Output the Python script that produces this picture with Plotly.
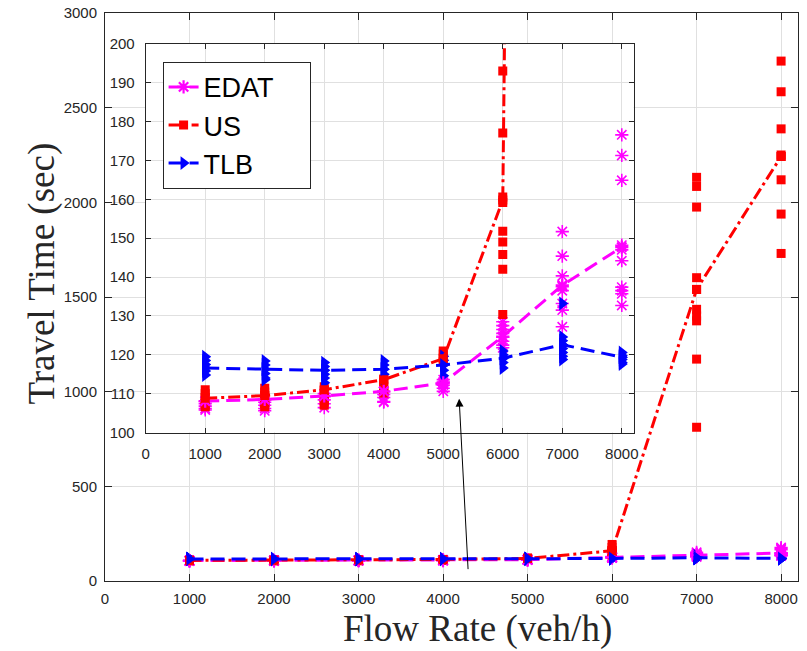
import plotly.graph_objects as go

# ---------------- data ----------------
flow = [1000, 2000, 3000, 4000, 5000, 6000, 7000, 8000]
x_ticks = [0, 1000, 2000, 3000, 4000, 5000, 6000, 7000, 8000]
y_ticks_main = [0, 500, 1000, 1500, 2000, 2500, 3000]
y_ticks_inset = [100, 110, 120, 130, 140, 150, 160, 170, 180, 190, 200]

edat_mean = [108.1, 108.5, 109.4, 110.6, 112.8, 124.7, 137.9, 147.7]
us_mean = [108.8, 109.5, 111.0, 113.6, 119.0, 159.8, 1540, 2242]
tlb_mean = [116.6, 116.3, 116.0, 116.3, 117.4, 119.1, 122.6, 119.4]

edat_runs = [
    [108.0, 107.4, 106.8, 106.2, 105.8],
    [108.4, 107.8, 107.0, 106.2, 105.6],
    [110.0, 109.2, 108.4, 107.4, 106.4],
    [110.5, 109.8, 109.0, 108.0, 107.8],
    [113.6, 113.0, 112.2, 111.4, 110.6],
    [128.5, 127.5, 126.5, 125.5, 124.5, 123.5, 122.5, 121.8],
    [151.7, 145.4, 140.3, 137.5, 136.5, 133.2, 131.5, 127.2],
    [176.6, 171.3, 164.9, 148.2, 147.0, 144.2, 137.4, 136.5, 135.7, 132.7],
]
us_runs = [
    [111.0, 110.0, 109.0, 108.0, 107.0, 106.6],
    [111.4, 110.4, 109.4, 108.4, 107.4, 106.6],
    [111.8, 110.8, 109.8, 108.8, 107.8, 107.0],
    [113.8, 112.8, 111.8, 110.8, 110.2],
    [121.0, 120.2, 119.2, 118.2],
    [193.0, 177.1, 160.6, 159.2, 151.8, 149.0, 145.8, 142.0, 130.4],
    [2132, 2084, 1975, 1602, 1540, 1435, 1400, 1374, 1172, 812],
    [2746, 2584, 2388, 2250, 2242, 2119, 1938, 1730],
]
tlb_runs = [
    [119.5, 118.5, 117.5, 116.6, 115.8, 114.8],
    [118.4, 117.4, 116.3, 115.2, 114.0, 113.6],
    [118.0, 117.0, 116.0, 115.0, 114.0, 112.8],
    [118.4, 117.4, 116.3, 115.0, 114.0],
    [119.6, 118.6, 117.4, 116.0, 114.6],
    [121.0, 120.0, 119.1, 118.0, 116.6],
    [133.2, 124.6, 123.6, 122.6, 121.6, 120.6, 119.6, 118.8],
    [120.6, 119.8, 119.4, 118.8, 118.0, 117.6],
]

NBSP = "\u00a0"
series = [
    dict(name="EDAT" + NBSP * 4, mean=edat_mean, runs=edat_runs, color="#FF00FF",
         dash="14px,7px", symbol="asterisk-open", size=11, mlw=1.6),
    dict(name="US", mean=us_mean, runs=us_runs, color="#FF0000",
         dash="12px,4px,3px,4px", symbol="square", size=9, mlw=0),
    dict(name="TLB", mean=tlb_mean, runs=tlb_runs, color="#0000FF",
         dash="14px,7px", symbol="triangle-right", size=12, mlw=0),
]


def flatten(runs):
    xs, ys = [], []
    for f, vals in zip(flow, runs):
        for v in vals:
            xs.append(f)
            ys.append(v)
    return xs, ys


fig = go.Figure()

for axes in [("x", "y"), ("x2", "y2")]:
    for s in series:
        xs, ys = flatten(s["runs"])
        mk = dict(symbol=s["symbol"], size=s["size"], color=s["color"],
                  line=dict(color=s["color"], width=s["mlw"]))
        fig.add_trace(go.Scatter(x=xs, y=ys, mode="markers", marker=mk,
                                 xaxis=axes[0], yaxis=axes[1], showlegend=False,
                                 hoverinfo="skip"))
    for s in series:
        mk = dict(symbol=s["symbol"], size=s["size"], color=s["color"],
                  line=dict(color=s["color"], width=s["mlw"] + (0.6 if s["mlw"] else 0)))
        fig.add_trace(go.Scatter(x=flow, y=s["mean"], mode="lines+markers", name=s["name"],
                                 line=dict(color=s["color"], width=3, dash=s["dash"]),
                                 marker=mk, xaxis=axes[0], yaxis=axes[1],
                                 showlegend=(axes[0] == "x2")))

axis_col = "#262626"
grid_col = "#e0e0e0"
tick_font = dict(family="Liberation Sans, Arial", size=15, color=axis_col)

common = dict(showline=True, linecolor=axis_col, linewidth=1, mirror="ticks",
              ticks="inside", tickcolor=axis_col, showgrid=True, gridcolor=grid_col,
              gridwidth=1, zeroline=False, tickfont=tick_font)

W, H = 807, 651
L, R, T, B = 105, 4, 11, 70
pw, ph = W - L - R, H - T - B

def px_x(px):
    return (px - L) / pw

def px_y(py):
    return (H - B - py) / ph

fig.update_layout(
    width=W, height=H,
    margin=dict(l=L, r=R, t=T, b=B),
    paper_bgcolor="white", plot_bgcolor="white",
    xaxis=dict(range=[0, 8200], tickvals=x_ticks, ticklen=7,
               ticklabelstandoff=4, **common),
    yaxis=dict(range=[0, 3000], tickvals=y_ticks_main, ticklen=7,
               ticklabelstandoff=4, **common),
    xaxis2=dict(range=[0, 8200], tickvals=x_ticks, ticklen=5, anchor="y2",
                domain=[px_x(146), px_x(637.5)], ticklabelstandoff=7, **common),
    yaxis2=dict(range=[100, 200], tickvals=y_ticks_inset, ticklen=5, anchor="x2",
                domain=[px_y(432), px_y(42)], ticklabelstandoff=7, **common),
    legend=dict(x=px_x(163), y=px_y(60), xanchor="left", yanchor="top",
                bgcolor="white", bordercolor=axis_col, borderwidth=1,
                font=dict(family="Liberation Sans, Arial", size=27, color="black"),
                tracegroupgap=0),
    showlegend=True,
)

label_font = dict(family="Liberation Serif, Times New Roman", size=37, color=axis_col)
fig.add_annotation(text="Flow Rate (veh/h)", xref="paper", yref="paper",
                   x=px_x(480), y=px_y(629), xanchor="center", yanchor="middle",
                   showarrow=False, font=label_font)
fig.add_annotation(text="Travel Time (sec)", xref="paper", yref="paper",
                   x=px_x(42), y=px_y(272), xanchor="center", yanchor="middle",
                   textangle=-90, showarrow=False, font=label_font)

# arrow from main curves to the inset
fig.add_annotation(text="", xref="paper", yref="paper", x=px_x(461.7), y=px_y(398),
                   ax=9, ay=172, showarrow=True, arrowhead=2, arrowsize=1.6,
                   arrowwidth=1, arrowcolor="black")

fig.write_html("out.html")
